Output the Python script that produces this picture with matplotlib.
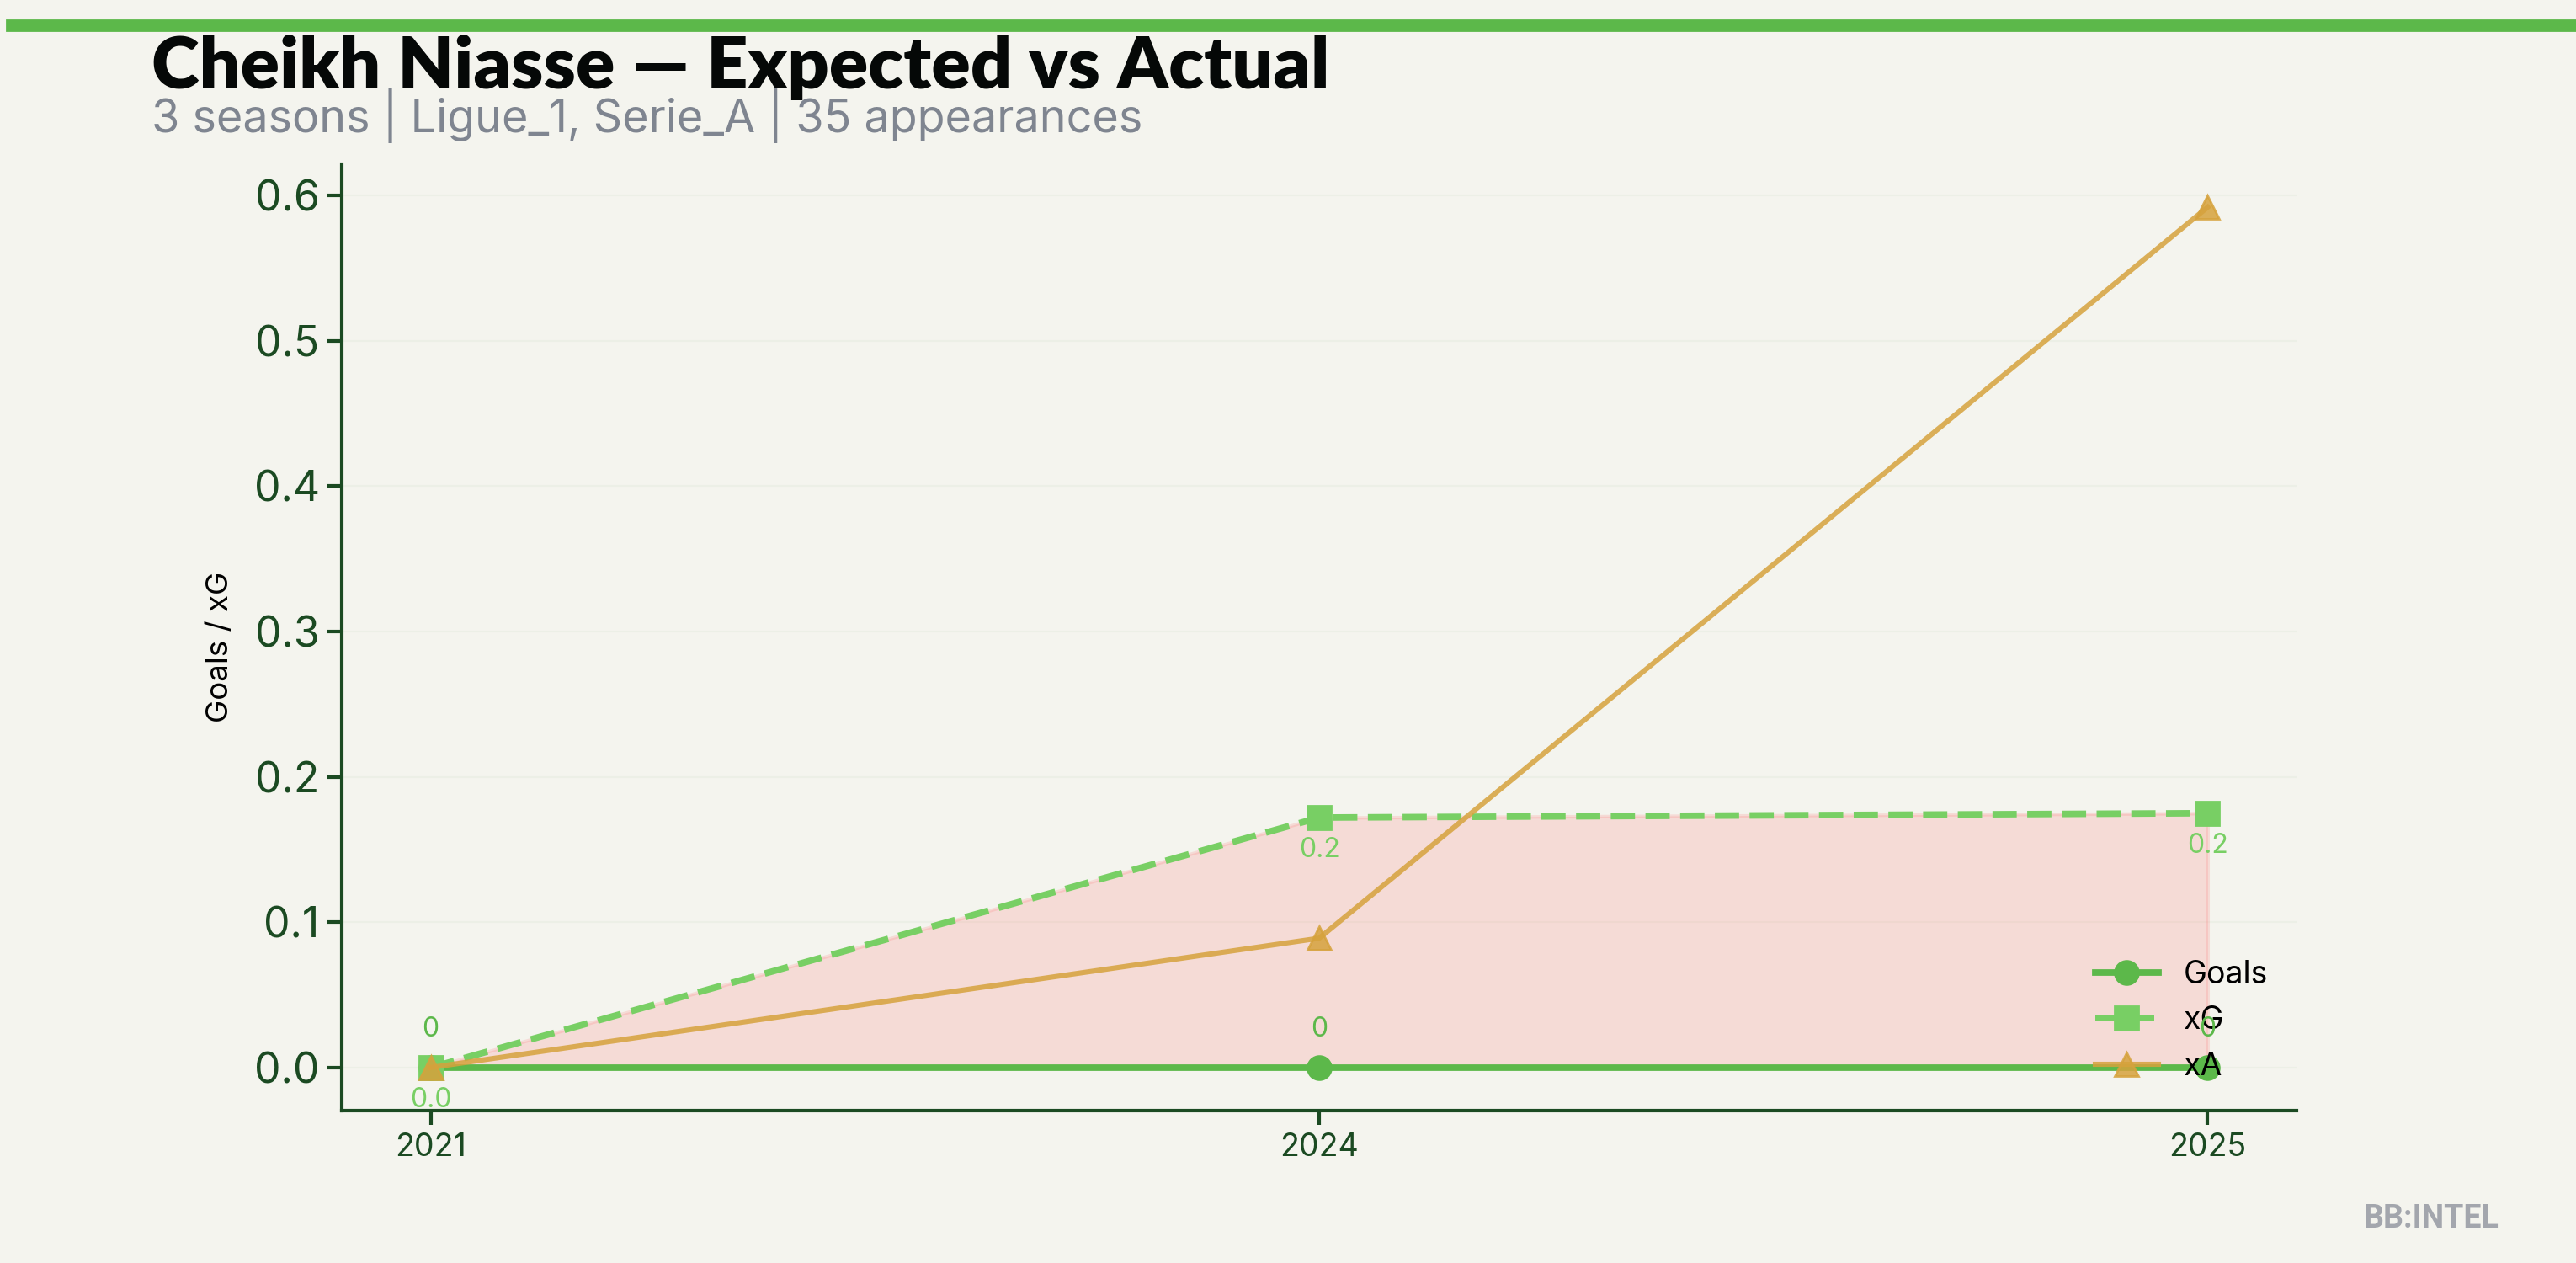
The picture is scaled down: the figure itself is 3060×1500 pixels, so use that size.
import matplotlib
matplotlib.use("Agg")
import matplotlib.pyplot as plt
from matplotlib.patches import Rectangle

seasons = ["2021", "2024", "2025"]
goals = [0, 0, 0]
xg = [0.0, 0.172, 0.175]
xa = [0.0, 0.089, 0.592]
goal_labels = ["0", "0", "0"]
xg_labels = ["0.0", "0.2", "0.2"]

title = "Cheikh Niasse \u2014 Expected vs Actual"
subtitle = "3 seasons | Ligue_1, Serie_A | 35 appearances"

BG = "#f4f4ee"
GREEN = "#5cb84a"
LGREEN = "#78cf64"
ORANGE = "#d6a23c"
DARK = "#1b4a22"

plt.rcParams['font.family'] = ['Inter', 'DejaVu Sans']

fig = plt.figure(figsize=(15.3, 7.5), dpi=200, facecolor=BG)
ax = fig.add_axes([0.1327, 0.1207, 0.8915 - 0.1327, 0.87 - 0.1207])
ax.set_facecolor(BG)

x = list(range(len(seasons)))
ax.fill_between(x, goals, xg, color="#ff6b6b", alpha=0.18, lw=1.5, zorder=1)
ax.plot(x, goals, color=GREEN, lw=2.8, marker='o', ms=10, label="Goals", zorder=3)
ax.plot(x, xg, color=LGREEN, lw=2.8, ls='--', marker='s', ms=10, label="xG", zorder=4)
ax.plot(x, xa, color=ORANGE, lw=2.2, marker='^', ms=10, alpha=0.85, label="xA", zorder=5)

for xi, g, lab in zip(x, goals, goal_labels):
    ax.annotate(lab, (xi, g), textcoords='offset points', xytext=(0, 16.5),
                ha='center', va='center', fontsize=11.5, color=GREEN, zorder=6)
for xi, v, lab in zip(x, xg, xg_labels):
    ax.annotate(lab, (xi, v), textcoords='offset points', xytext=(0, -14),
                ha='center', va='center', fontsize=11.5, color=LGREEN, zorder=6)

ax.set_xticks(x)
ax.set_xticklabels(seasons)
ax.tick_params(axis='x', labelsize=13.5, colors=DARK, length=6, width=1.5)
ax.tick_params(axis='y', labelsize=18, colors=DARK, length=6, width=1.5)
for s in ['top', 'right']:
    ax.spines[s].set_visible(False)
for s in ['left', 'bottom']:
    ax.spines[s].set_color(DARK)
    ax.spines[s].set_linewidth(1.5)
ax.grid(axis='y', color='#e8ede2', lw=0.8, alpha=0.6)
ax.set_axisbelow(True)

ax.set_ylabel("Goals / xG", fontsize=13.2, color='black')
ax.yaxis.set_label_coords(-0.055, 0.49)

leg = ax.legend(loc='lower right', frameon=False, fontsize=13.5)
for t in leg.get_texts():
    t.set_color('black')

# top bar
fig.patches.append(Rectangle((8 / 3060, 1 - 36 / 1500), 1, 12 / 1500, transform=fig.transFigure,
                             color=GREEN, zorder=0))

fig.text(0.0588, 0.93, title, fontsize=31, fontweight='heavy', color='#050807',
         family=['Lato', 'DejaVu Sans'], ha='left', va='baseline')
fig.text(0.0588, 0.8953, subtitle, fontsize=19.4, color='#7f8590', ha='left', va='baseline')
fig.text(0.97, 0.028, "BB:INTEL", fontsize=13.5, fontweight='bold', color='#a3a6ad',
         family=['Roboto', 'DejaVu Sans'], ha='right', va='baseline')

fig.savefig("out.png", dpi=200, facecolor=BG)
